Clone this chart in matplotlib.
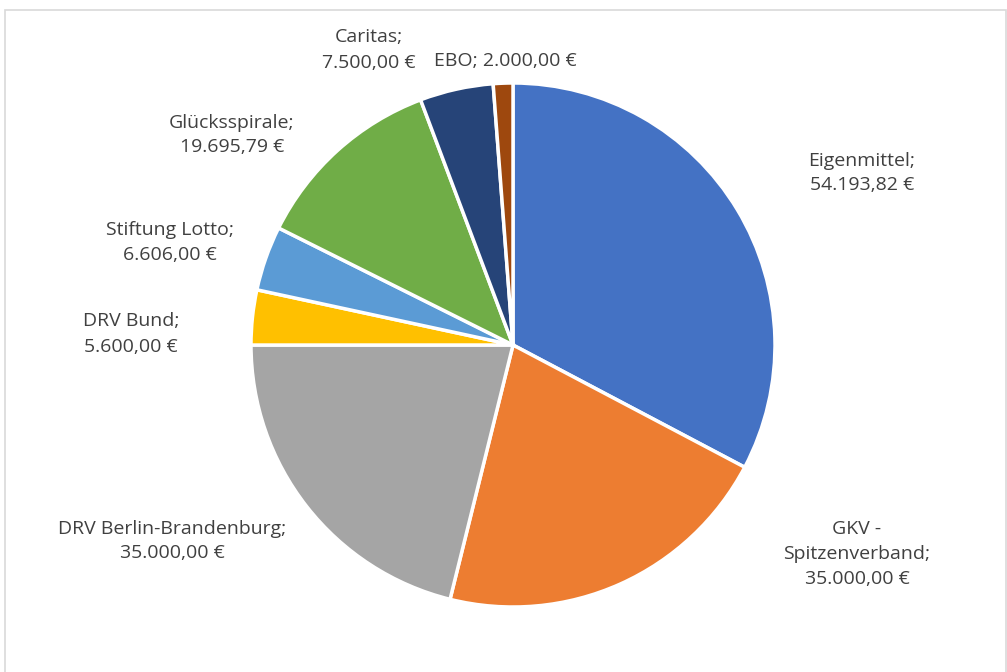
import matplotlib.pyplot as plt
from matplotlib.patches import Rectangle

labels = ["Eigenmittel", "GKV -\nSpitzenverband", "DRV Berlin-Brandenburg", "DRV Bund",
          "Stiftung Lotto", "Glücksspirale", "Caritas", "EBO"]
values = [54193.82, 35000.00, 35000.00, 5600.00, 6606.00, 19695.79, 7500.00, 2000.00]
colors = ["#4472C4", "#ED7D31", "#A5A5A5", "#FFC000", "#5B9BD5", "#70AD47", "#264478", "#9E480E"]

# label text centres in pixels (x, y from top) and whether the value goes on the same line
label_pos = [(862, 173), (857, 554), (172, 541), (131, 334), (170, 242), (232, 135), (369, 50), (505, 61)]
one_line = [False, False, False, False, False, False, False, True]


def euro(v):
    s = f"{v:,.2f}".replace(",", "X").replace(".", ",").replace("X", ".")
    return s + " €"


W, H = 1007, 672
fig = plt.figure(figsize=(W / 100, H / 100), dpi=100)
plt.rcParams['font.family'] = ['Open Sans', 'DejaVu Sans']

cx, cy, r = 513, 345, 262
ax = fig.add_axes([(cx - r) / W, (H - cy - r) / H, 2 * r / W, 2 * r / H])
wedges, _ = ax.pie(values, colors=colors, startangle=90, counterclock=False, radius=1,
                   wedgeprops=dict(edgecolor="white", linewidth=2.5))
for w in wedges:
    w.set_clip_on(False)
ax.set_xlim(-1, 1)
ax.set_ylim(-1, 1)
ax.set_aspect("equal")
ax.axis("off")

for lab, v, (px, py), single in zip(labels, values, label_pos, one_line):
    sep = " " if single else "\n"
    fig.text(px / W, 1 - py / H, f"{lab};{sep}{euro(v)}", ha="center", va="center",
             fontsize=14, color="#404040", linespacing=1.5)

fig.patches.append(Rectangle((5 / W, -0.1), (W - 6) / W, 1.1 - 10 / H, transform=fig.transFigure,
                             fill=False, edgecolor="#D9D9D9", linewidth=1.2))

fig.savefig("out.png", dpi=100)
